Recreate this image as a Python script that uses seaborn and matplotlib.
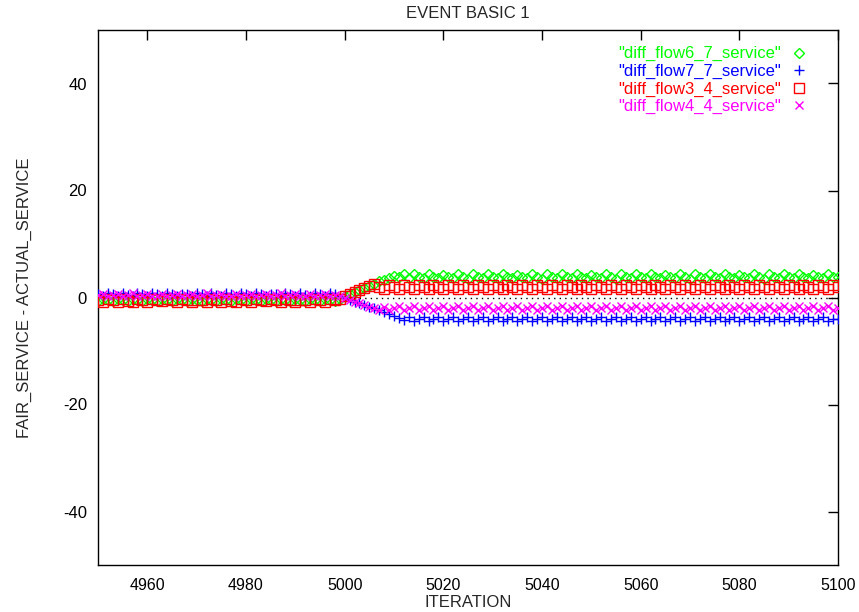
import matplotlib
matplotlib.use("Agg")
import matplotlib.pyplot as plt
import seaborn as sns

# Iterations sampled once per step
iterations = list(range(4950, 5101))

flow6_7 = [
    -0.7, -0.3, -0.5, -0.7, -0.3, -0.5, -0.6, -0.3, -0.5, -0.7,
    -0.3, -0.5, -0.7, -0.3, -0.4, -0.7, -0.3, -0.5, -0.7, -0.3,
    -0.5, -0.6, -0.3, -0.5, -0.7, -0.3, -0.5, -0.7, -0.2, -0.5,
    -0.7, -0.3, -0.5, -0.7, -0.3, -0.5, -0.6, -0.3, -0.5, -0.7,
    -0.3, -0.5, -0.7, -0.3, -0.4, -0.7, -0.3, -0.5, -0.6, -0.2,
    0.2, 0.6, 1.0, 1.4, 1.8, 2.2, 2.6, 3.0, 3.3, 3.6, 4.1, 3.8, 4.3,
    3.6, 4.3, 3.9, 3.6, 4.3, 3.8, 3.6, 4.2, 3.9, 3.6,
    4.3, 3.9, 3.5, 4.3, 3.9, 3.6, 4.3, 3.8, 3.6, 4.3,
    3.9, 3.6, 4.2, 3.9, 3.6, 4.3, 3.9, 3.5, 4.3, 3.9,
    3.6, 4.3, 3.8, 3.6, 4.3, 3.9, 3.6, 4.2, 3.9, 3.6,
    4.3, 3.9, 3.5, 4.3, 3.9, 3.6, 4.3, 3.8, 3.6, 4.3,
    3.9, 3.6, 4.2, 3.9, 3.6, 4.3, 3.9, 3.5, 4.3, 3.9,
    3.6, 4.3, 3.8, 3.6, 4.3, 3.9, 3.6, 4.2, 3.9, 3.6,
    4.3, 3.9, 3.5, 4.3, 3.9, 3.6, 4.3, 3.8, 3.6, 4.3,
    3.9, 3.6, 4.2, 3.9, 3.6, 4.3, 3.9, 3.9,
]

flow7_7 = [
    0.6, 0.3, 0.8, 0.6, 0.3, 0.8, 0.5, 0.3, 0.8, 0.6,
    0.3, 0.8, 0.6, 0.2, 0.8, 0.6, 0.3, 0.7, 0.6, 0.3,
    0.8, 0.6, 0.3, 0.8, 0.5, 0.3, 0.8, 0.6, 0.3, 0.8,
    0.6, 0.2, 0.8, 0.6, 0.3, 0.7, 0.6, 0.3, 0.8, 0.6,
    0.3, 0.8, 0.5, 0.3, 0.8, 0.6, 0.3, 0.8, 0.6, 0.3,
    0.0, -0.4, -0.8, -1.1, -1.4, -1.7, -2.0, -2.3, -2.7, -3.1, -3.5, -3.8, -4.2,
    -3.7, -4.4, -4.1, -3.7, -4.4, -4.0, -3.7, -4.3, -4.1, -3.7,
    -4.4, -4.1, -3.6, -4.4, -4.1, -3.7, -4.4, -4.0, -3.7, -4.4,
    -4.1, -3.7, -4.3, -4.1, -3.7, -4.4, -4.1, -3.6, -4.4, -4.1,
    -3.7, -4.4, -4.0, -3.7, -4.4, -4.1, -3.7, -4.3, -4.1, -3.7,
    -4.4, -4.1, -3.6, -4.4, -4.1, -3.7, -4.4, -4.0, -3.7, -4.4,
    -4.1, -3.7, -4.3, -4.1, -3.7, -4.4, -4.1, -3.6, -4.4, -4.1,
    -3.7, -4.4, -4.0, -3.7, -4.4, -4.1, -3.7, -4.3, -4.1, -3.7,
    -4.4, -4.1, -3.6, -4.4, -4.1, -3.7, -4.4, -4.0, -3.7, -4.4,
    -4.1, -3.7, -4.3, -4.1, -3.7, -4.4, -4.1, -4.1,
]

flow3_4 = [
    -0.5, -0.8, -0.3, -0.5, -0.8, -0.3, -0.6, -0.8, -0.3, -0.5,
    -0.8, -0.3, -0.5, -0.7, -0.3, -0.5, -0.8, -0.3, -0.5, -0.8,
    -0.4, -0.5, -0.8, -0.3, -0.5, -0.8, -0.3, -0.6, -0.8, -0.3,
    -0.5, -0.8, -0.3, -0.5, -0.7, -0.3, -0.5, -0.8, -0.3, -0.5,
    -0.8, -0.4, -0.5, -0.8, -0.3, -0.5, -0.8, -0.3, -0.5, -0.2,
    0.2, 0.6, 1.0, 1.4, 1.8, 2.2, 2.5, 2.0,
    1.6, 2.4, 2.0, 1.6, 2.4, 1.9, 1.6, 2.3, 2.0, 1.6,
    2.4, 2.0, 1.5, 2.4, 2.0, 1.6, 2.4, 1.9, 1.6, 2.4,
    2.0, 1.6, 2.3, 2.0, 1.6, 2.4, 2.0, 1.5, 2.4, 2.0,
    1.6, 2.4, 1.9, 1.6, 2.4, 2.0, 1.6, 2.3, 2.0, 1.6,
    2.4, 2.0, 1.5, 2.4, 2.0, 1.6, 2.4, 1.9, 1.6, 2.4,
    2.0, 1.6, 2.3, 2.0, 1.6, 2.4, 2.0, 1.5, 2.4, 2.0,
    1.6, 2.4, 1.9, 1.6, 2.4, 2.0, 1.6, 2.3, 2.0, 1.6,
    2.4, 2.0, 1.5, 2.4, 2.0, 1.6, 2.4, 1.9, 1.6, 2.4,
    2.0, 1.6, 2.3, 2.0, 1.6, 2.4, 2.0, 1.5, 2.4, 2.0,
    1.6, 2.4, 2.0,
]

flow4_4 = [
    0.4, 0.7, 0.2, 0.4, 0.7, 0.2, 0.4, 0.8, 0.2, 0.4,
    0.7, 0.2, 0.3, 0.7, 0.2, 0.4, 0.7, 0.3, 0.4, 0.7,
    0.2, 0.4, 0.8, 0.2, 0.4, 0.7, 0.2, 0.3, 0.7, 0.2,
    0.4, 0.7, 0.3, 0.4, 0.7, 0.2, 0.4, 0.8, 0.2, 0.4,
    0.7, 0.2, 0.3, 0.7, 0.2, 0.4, 0.7, 0.3, 0.4, 0.2,
    -0.1, -0.5, -0.8, -1.1, -1.4, -1.7, -2.0, -2.3, -1.8,
    -2.4, -2.0, -1.6, -2.4, -1.9, -1.6, -2.3, -2.0, -1.6, -2.4,
    -2.0, -1.5, -2.4, -2.0, -1.6, -2.4, -1.9, -1.6, -2.4, -2.0,
    -1.6, -2.3, -2.0, -1.6, -2.4, -2.0, -1.5, -2.4, -2.0, -1.6,
    -2.4, -1.9, -1.6, -2.4, -2.0, -1.6, -2.3, -2.0, -1.6, -2.4,
    -2.0, -1.5, -2.4, -2.0, -1.6, -2.4, -1.9, -1.6, -2.4, -2.0,
    -1.6, -2.3, -2.0, -1.6, -2.4, -2.0, -1.5, -2.4, -2.0, -1.6,
    -2.4, -1.9, -1.6, -2.4, -2.0, -1.6, -2.3, -2.0, -1.6, -2.4,
    -2.0, -1.5, -2.4, -2.0, -1.6, -2.4, -1.9, -1.6, -2.4, -2.0,
    -1.6, -2.3, -2.0, -1.6, -2.4, -2.0, -1.5, -2.4, -2.0, -1.6,
    -2.4, -2.0,
]

series_labels = ['"diff_flow6_7_service"', '"diff_flow7_7_service"',
                 '"diff_flow3_4_service"', '"diff_flow4_4_service"']
series_values = [flow6_7, flow7_7, flow3_4, flow4_4]
series_colors = ["#00ff00", "#0000ff", "#ff0000", "#ff00ff"]
series_markers = ["D", "+", "s", "x"]
series_sizes = [5.5, 7.0, 6.5, 6.0]

x_ticks = [4960, 4980, 5000, 5020, 5040, 5060, 5080, 5100]
y_ticks = [-40, -20, 0, 20, 40]

sns.set_theme(style="white")
plt.rcParams["font.family"] = ["Liberation Sans", "DejaVu Sans"]
plt.rcParams["axes.unicode_minus"] = False

fig = plt.figure(figsize=(8.59, 6.12), dpi=100)
ax = fig.add_axes([98 / 859, 47 / 612, 740 / 859, 535 / 612])

# zero axis
ax.axhline(0, color="black", linestyle=(0, (1, 3)), linewidth=1.0, zorder=1)

for label, vals, col, mk, ms in zip(series_labels, series_values,
                                    series_colors, series_markers, series_sizes):
    sns.lineplot(x=iterations, y=vals, ax=ax, label=label, linestyle="none",
                 marker=mk, markersize=ms, markerfacecolor="none",
                 markeredgecolor=col, color=col, markeredgewidth=1.0,
                 zorder=3)

ax.set_xlim(4950, 5100)
ax.set_ylim(-50, 50)
ax.set_xticks(x_ticks)
ax.set_yticks(y_ticks)
ax.tick_params(direction="in", length=7, width=1, colors="black",
               labelsize=12, top=True, right=True, pad=8)
ax.tick_params(axis="x", pad=9.5, labelsize=11.5)
for sp in ax.spines.values():
    sp.set_color("black")
    sp.set_linewidth(1.0)

ax.set_title("EVENT BASIC 1", fontsize=12, pad=9)
ax.set_xlabel("ITERATION", fontsize=12)
ax.xaxis.set_label_coords(0.5, -0.057)
ax.set_ylabel("FAIR_SERVICE - ACTUAL_SERVICE", fontsize=12, labelpad=22)

leg = ax.legend(loc="upper right", bbox_to_anchor=(0.970, 0.985),
                frameon=False, markerfirst=False, fontsize=12,
                handlelength=1.0, handletextpad=0.6, labelspacing=0.15,
                borderpad=0)
for txt, col in zip(leg.get_texts(), series_colors):
    txt.set_color(col)

fig.savefig("out.png", dpi=100)
